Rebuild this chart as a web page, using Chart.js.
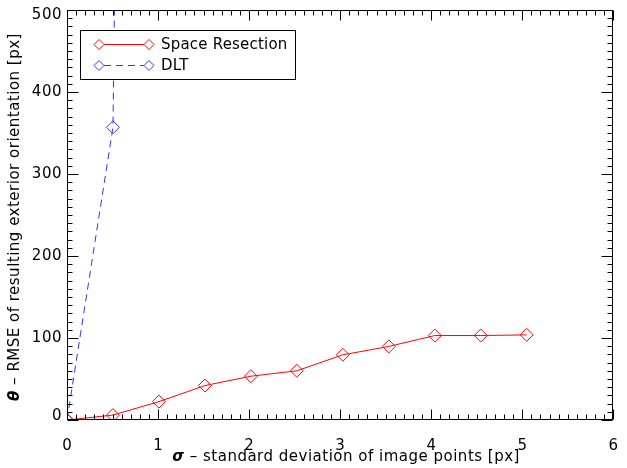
<!DOCTYPE html>
<html>
<head>
<meta charset="utf-8">
<script src="https://cdn.jsdelivr.net/npm/chart.js@4/dist/chart.umd.min.js"></script>
<style>
  html, body { margin: 0; padding: 0; background: #fff; }
  #wrap { width: 627px; height: 468px; }
</style>
</head>
<body>
<div id="wrap"><canvas id="c" width="627" height="468"></canvas></div>
<script>
// Image-point noise (sigma, px) and resulting RMSE of exterior orientation (px)
const sigma = [0, 0.505, 1.01, 1.515, 2.02, 2.525, 3.03, 3.535, 4.04, 4.545, 5.05];
const spaceResection = [0, 6, 22.4, 42, 53.4, 60, 79.5, 89.7, 103, 103, 103.8];
const dltSigma = [0, 0.505, 1.01];
const dlt = [0, 357, 4850];

const seriesNames = ['Space Resection', 'DLT'];
const xTicks = [0, 1, 2, 3, 4, 5, 6];
const yTicks = [0, 100, 200, 300, 400, 500];
const xTitle = ['σ', ' – standard deviation of image points [px]'];
const yTitle = ['θ', ' – RMSE of resulting exterior orientation [px]'];

const FONT = 'DejaVu Sans';
const RED = '#ff0000';
const BLUE = '#3333ff';

const toPoints = (xs, ys) => xs.map((x, i) => ({ x, y: ys[i] }));

// Box with inward major/minor ticks on all four sides, plus y tick labels
const framePlugin = {
  id: 'frame',
  afterDatasetsDraw(chart) {
    const { ctx, chartArea: a, scales: { x, y } } = chart;
    const L = Math.round(a.left) + 0.5, R = Math.round(a.right) - 0.5;
    const T = Math.round(a.top) + 0.5, B = Math.round(a.bottom) - 0.5;
    ctx.save();
    ctx.strokeStyle = '#000';
    ctx.lineWidth = 1;
    ctx.strokeRect(L, T, R - L, B - T);
    ctx.beginPath();
    const sub = 10;
    for (let i = 0; i < xTicks.length; i++) {
      const v0 = xTicks[i], v1 = xTicks[i + 1];
      const steps = v1 === undefined ? 1 : sub;
      for (let k = 0; k < steps; k++) {
        const v = v1 === undefined ? v0 : v0 + (v1 - v0) * k / sub;
        const px = Math.round(x.getPixelForValue(v)) + 0.5;
        const len = k === 0 ? 10 : 5;
        ctx.moveTo(px, B); ctx.lineTo(px, B - len);
        ctx.moveTo(px, T); ctx.lineTo(px, T + len);
      }
    }
    for (let i = 0; i < yTicks.length; i++) {
      const v0 = yTicks[i], v1 = yTicks[i + 1];
      const steps = v1 === undefined ? 1 : sub;
      for (let k = 0; k < steps; k++) {
        const v = v1 === undefined ? v0 : v0 + (v1 - v0) * k / sub;
        const py = Math.round(y.getPixelForValue(v)) + 0.5;
        const len = k === 0 ? 11 : 5;
        ctx.moveTo(L, py); ctx.lineTo(L + len, py);
        ctx.moveTo(R, py); ctx.lineTo(R - len, py);
      }
    }
    ctx.stroke();

    // y tick labels, kept inside the vertical extent of the box
    ctx.fillStyle = '#000';
    ctx.font = `15px "${FONT}"`;
    ctx.textAlign = 'right';
    ctx.textBaseline = 'middle';
    ctx.letterSpacing = '0.5px';
    yTicks.forEach(v => {
      let py = y.getPixelForValue(v);
      py = Math.min(Math.max(py, a.top + 5), a.bottom - 4);
      ctx.fillText(String(v), a.left - 5, py);
    });
    ctx.restore();
  }
};

function diamond(ctx, cx, cy, r) {
  ctx.beginPath();
  ctx.moveTo(cx, cy - r);
  ctx.lineTo(cx + r, cy);
  ctx.lineTo(cx, cy + r);
  ctx.lineTo(cx - r, cy);
  ctx.closePath();
  ctx.stroke();
}

// Boxed legend: line sample with a diamond on each end
const legendPlugin = {
  id: 'boxLegend',
  afterDatasetsDraw(chart) {
    const { ctx } = chart;
    const box = { x: 80.5, y: 30.5, w: 215, h: 49 };
    ctx.save();
    ctx.fillStyle = '#fff';
    ctx.fillRect(box.x, box.y, box.w, box.h);
    ctx.strokeStyle = '#000';
    ctx.lineWidth = 1;
    ctx.strokeRect(box.x, box.y, box.w, box.h);
    chart.data.datasets.forEach((ds, i) => {
      const yy = 44.5 + i * 21;
      const x0 = 99, x1 = 149;
      ctx.strokeStyle = ds.borderColor;
      ctx.lineWidth = 1;
      ctx.setLineDash(ds.borderDash || []);
      ctx.beginPath();
      ctx.moveTo(x0 + 5, yy); ctx.lineTo(x1 - 5, yy);
      ctx.stroke();
      ctx.setLineDash([]);
      diamond(ctx, x0, yy, 5);
      diamond(ctx, x1, yy, 5);
      ctx.fillStyle = '#000';
      ctx.font = `15px "${FONT}"`;
      ctx.letterSpacing = '0.2px';
      ctx.textBaseline = 'middle';
      ctx.textAlign = 'left';
      ctx.fillText(ds.label, 161, yy + 1);
    });
    ctx.restore();
  }
};

// Axis titles with a bold italic Greek symbol in front
function drawTitle(ctx, parts, cx, cy, rot) {
  ctx.save();
  ctx.translate(cx, cy);
  ctx.rotate(rot);
  ctx.textBaseline = 'middle';
  ctx.textAlign = 'left';
  ctx.letterSpacing = '0.5px';
  const f0 = `italic bold 15px "${FONT}"`, f1 = `15px "${FONT}"`;
  ctx.font = f0; const w0 = ctx.measureText(parts[0]).width;
  ctx.font = f1; const w1 = ctx.measureText(parts[1]).width;
  const start = -(w0 + w1) / 2;
  ctx.fillStyle = '#000';
  ctx.font = f0; ctx.fillText(parts[0], start, 0);
  ctx.font = f1; ctx.fillText(parts[1], start + w0, 0);
  ctx.restore();
}

const titlePlugin = {
  id: 'axisTitles',
  afterDraw(chart) {
    const { ctx, chartArea: a } = chart;
    drawTitle(ctx, xTitle, (a.left + a.right) / 2 + 6, 457, 0);
    drawTitle(ctx, yTitle, 15, (a.top + a.bottom) / 2 + 2, -Math.PI / 2);
  }
};

new Chart(document.getElementById('c'), {
  type: 'line',
  data: {
    datasets: [
      {
        label: seriesNames[0],
        data: toPoints(sigma, spaceResection),
        borderColor: RED,
        borderWidth: 1,
        pointStyle: 'rectRot',
        pointRadius: 6.5,
        pointBorderWidth: 1,
        pointBackgroundColor: 'rgba(0,0,0,0)',
        pointBorderColor: RED,
        tension: 0,
        fill: false
      },
      {
        label: seriesNames[1],
        data: toPoints(dltSigma, dlt),
        borderColor: BLUE,
        borderWidth: 1,
        borderDash: [7, 5],
        pointStyle: 'rectRot',
        pointRadius: 6.5,
        pointBorderWidth: 1,
        pointBackgroundColor: 'rgba(0,0,0,0)',
        pointBorderColor: BLUE,
        tension: 0,
        fill: false
      }
    ]
  },
  options: {
    responsive: false,
    animation: false,
    devicePixelRatio: 1,
    layout: { padding: { top: 10, right: 4, left: 0, bottom: 0 } },
    plugins: { legend: { display: false }, tooltip: { enabled: false } },
    scales: {
      x: {
        type: 'linear',
        min: xTicks[0],
        max: xTicks[xTicks.length - 1],
        grid: { display: false },
        border: { display: false },
        afterBuildTicks: s => { s.ticks = xTicks.map(v => ({ value: v })); },
        ticks: { font: { family: FONT, size: 15 }, color: '#000', padding: 9, maxRotation: 0 },
        afterFit: s => { s.height = 48; }
      },
      y: {
        type: 'linear',
        min: yTicks[0],
        max: yTicks[yTicks.length - 1],
        grid: { display: false },
        border: { display: false },
        afterBuildTicks: s => { s.ticks = yTicks.map(v => ({ value: v })); },
        ticks: { display: false },
        afterFit: s => { s.width = 67; }
      }
    }
  },
  plugins: [framePlugin, legendPlugin, titlePlugin]
});
</script>
</body>
</html>
